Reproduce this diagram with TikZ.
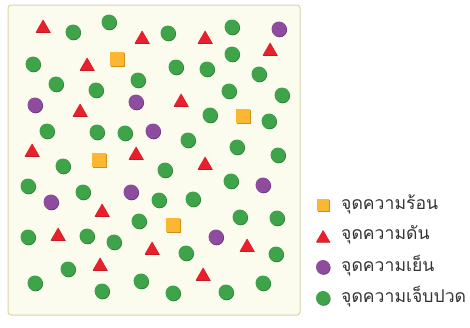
\documentclass[tikz,border=0pt]{standalone}
\usepackage{fontspec}
\newfontfamily\thaifont[Script=Thai]{Loma}
\usetikzlibrary{shapes.geometric,shadows}
\definecolor{cgreen}{HTML}{3FA34A}
\definecolor{cgreend}{HTML}{2E7D36}
\definecolor{cred}{HTML}{E8202E}
\definecolor{credd}{HTML}{B5161F}
\definecolor{cpurp}{HTML}{8E4C9E}
\definecolor{cpurpd}{HTML}{6A3577}
\definecolor{corange}{HTML}{FBB731}
\definecolor{corangd}{HTML}{D08F18}
\definecolor{cframe}{HTML}{DCD3A6}
\definecolor{cpaper}{HTML}{FCFCEE}
\definecolor{ctext}{HTML}{333333}
\tikzset{
  gc/.style={circle, fill=cgreen, minimum size=15pt, inner sep=0pt,
    drop shadow={shadow xshift=0.6pt, shadow yshift=-0.8pt, fill=cgreend, opacity=1}},
  pc/.style={circle, fill=cpurp, minimum size=15pt, inner sep=0pt,
    drop shadow={shadow xshift=0.6pt, shadow yshift=-0.8pt, fill=cpurpd, opacity=1}},
  rt/.style={regular polygon, regular polygon sides=3, fill=cred, minimum size=17pt, inner sep=0pt, yshift=-2pt,
    drop shadow={shadow xshift=0.4pt, shadow yshift=-0.6pt, fill=credd, opacity=1}},
  os/.style={rectangle, fill=corange, minimum size=14pt, inner sep=0pt,
    drop shadow={shadow xshift=0.6pt, shadow yshift=-0.8pt, fill=corangd, opacity=1}},
  legtext/.style={anchor=west, inner sep=0pt, text=ctext, font=\thaifont\fontsize{17.6}{20}\selectfont},
}
\begin{document}
\begin{tikzpicture}[x=1pt,y=-1pt]
\useasboundingbox (0,0) rectangle (470,327);
\draw[cframe, fill=cpaper, line width=1pt, rounded corners=3pt] (8,5) rectangle (300,315);
% green circles
\foreach \x/\y [count=\i] in {73/32,109/22,168/33,232/27,33/64,232/54,138/80,56/84,96/90,176/67,207/69,259/74,229/91,282/95,210/115,269/121,47/131,97/132,125/133,188/140,237/147,278/155,63/166,165/170,28/186,83/192,231/181,159/200,193/199,139/221,240/217,277/218,28/237,87/236,114/242,186/253,276/254,68/269,35/283,102/291,141/281,173/293,226/292,263/283}
  \node[gc] (g\i) at (\x,\y) {};
% red triangles
\foreach \x/\y [count=\i] in {43/26,142/37,205/37,270/49,87/64,80/110,181/100,32/150,136/153,205/163,102/210,58/234,152/248,247/245,100/264,203/274}
  \node[rt] (r\i) at (\x,\y) {};
% purple circles
\foreach \x/\y [count=\i] in {279/29,35/105,136/102,153/131,131/192,51/202,263/185,216/237}
  \node[pc] (p\i) at (\x,\y) {};
% orange squares
\foreach \x/\y [count=\i] in {117/59,243/116,99/160,173/225}
  \node[os] (o\i) at (\x,\y) {};
% legend
\node[os, minimum size=12pt] (lo) at (323,205) {};
\node[rt, minimum size=16pt] (lr) at (323,236) {};
\node[pc, minimum size=14pt] (lp) at (323,267) {};
\node[gc, minimum size=14pt] (lg) at (323,298) {};
\node[legtext] (to) at (341,204) {จุดความร้อน};
\node[legtext] (tr) at (341,235) {จุดความดัน};
\node[legtext] (tp) at (341,266) {จุดความเย็น};
\node[legtext] (tg) at (341,297) {จุดความเจ็บปวด};
\end{tikzpicture}
\end{document}
